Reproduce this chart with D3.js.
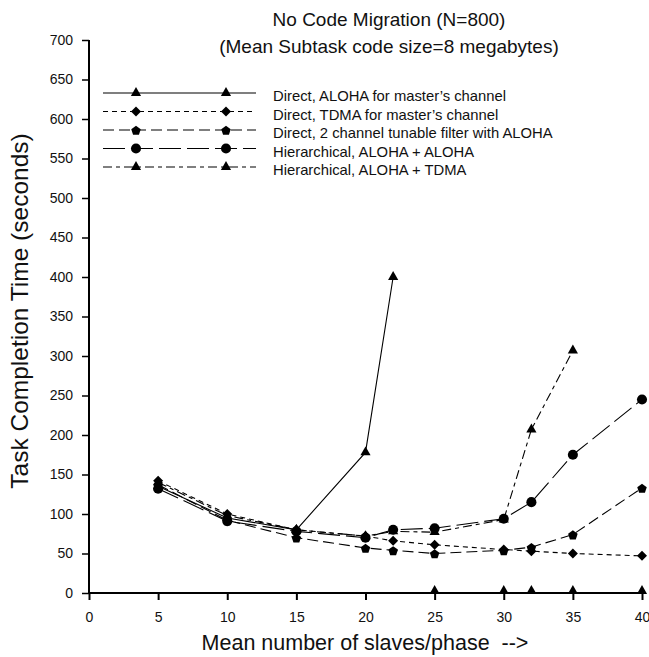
<html>
<head>
<script src="https://d3js.org/d3.v7.min.js"></script>
<style>
body { margin: 0; background: white; }
text { font-family: 'Liberation Sans', Arial, sans-serif; }
</style>
</head>
<body>
<svg id="chart" width="649" height="657"></svg>
<script>
// data
const seriesNames = [
  "Direct, ALOHA for master\u2019s channel",
  "Direct, TDMA for master\u2019s channel",
  "Direct, 2 channel tunable filter with ALOHA",
  "Hierarchical, ALOHA + ALOHA",
  "Hierarchical, ALOHA + TDMA"
];
const directAlohaX = [5, 10, 15, 20, 22];
const directAlohaY = [135, 95, 80, 178, 400];
const directTdmaX = [5, 10, 15, 20, 22, 25, 30, 32, 35, 40];
const directTdmaY = [142, 100, 80, 72, 66, 61, 55, 53, 50, 47];
const tunableX = [5, 10, 15, 20, 22, 25, 30, 32, 35, 40];
const tunableY = [137, 92, 70, 57, 54, 50, 54, 58, 74, 133];
const hierAlohaX = [5, 10, 15, 20, 22, 25, 30, 32, 35, 40];
const hierAlohaY = [132, 91, 78, 70, 80, 82, 94, 115, 175, 245];
const hierTdmaX = [5, 10, 15, 20, 22, 25, 30, 32, 35];
const hierTdmaY = [140, 98, 80, 72, 78, 77, 93, 207, 307];
// triangles sitting on the x axis (no value)
const zeroX = [25, 30, 32, 35, 40];
const zeroY = [0, 0, 0, 0, 0];

const xTicks = [0, 5, 10, 15, 20, 25, 30, 35, 40];
const yTicks = [0, 50, 100, 150, 200, 250, 300, 350, 400, 450, 500, 550, 600, 650, 700];

const svg = d3.select("#chart");
const x = d3.scaleLinear().domain([0, 40]).range([89, 642]);
const y = d3.scaleLinear().domain([0, 700]).range([593, 40]);

const styles = [
  {dash: null, sym: d3.symbolTriangle, size: 45},
  {dash: "5,4", sym: "diamond", size: 5},
  {dash: "11,5", sym: "pentagon", size: 5},
  {dash: "22,6", sym: d3.symbolCircle, size: 80},
  {dash: "9,4,4,4", sym: d3.symbolTriangle, size: 45}
];
const series = [
  [directAlohaX, directAlohaY],
  [directTdmaX, directTdmaY],
  [tunableX, tunableY],
  [hierAlohaX, hierAlohaY],
  [hierTdmaX, hierTdmaY]
];

function polygon(n, r, dy) {
  const pts = d3.range(n).map(i => {
    const a = -Math.PI / 2 + i * 2 * Math.PI / n;
    return [r * Math.cos(a), r * Math.sin(a) + dy];
  });
  return "M" + pts.join("L") + "Z";
}
function marker(g, st, cx, cy) {
  let d;
  if (st.sym === "pentagon") d = polygon(5, st.size, 0.8);
  else if (st.sym === "diamond") d = polygon(4, st.size, 0);
  else d = d3.symbol().type(st.sym).size(st.size)();
  g.append("path").attr("d", d)
    .attr("transform", `translate(${cx},${cy})`)
    .attr("fill", "black");
}

// axes
svg.append("g").attr("transform", "translate(0,593)")
  .call(d3.axisBottom(x).tickValues(xTicks).tickSize(7).tickPadding(12))
  .call(g => g.select(".domain").attr("stroke-width", 2).attr("d", "M89,0H642"))
  .call(g => g.selectAll(".tick line").attr("stroke-width", 2))
  .call(g => g.selectAll("text").style("font-size", "14px").attr("fill", "#111"));

svg.append("g").attr("transform", "translate(89,0)")
  .call(d3.axisLeft(y).tickValues(yTicks).tickSize(7).tickPadding(9))
  .call(g => g.select(".domain").attr("stroke-width", 2).attr("d", "M0,40V593"))
  .call(g => g.selectAll(".tick line").attr("stroke-width", 1.5))
  .call(g => g.selectAll("text").style("font-size", "14px").attr("fill", "#111"));

// lines and markers
const line = d3.line().x(d => x(d[0])).y(d => y(d[1]));
series.forEach((s, i) => {
  const pts = s[0].map((v, j) => [v, s[1][j]]);
  svg.append("path").datum(pts)
    .attr("d", line)
    .attr("fill", "none")
    .attr("stroke", "black")
    .attr("stroke-width", 1.1)
    .attr("stroke-dasharray", styles[i].dash);
  const g = svg.append("g");
  pts.forEach(p => marker(g, styles[i], x(p[0]), y(p[1])));
});
const gz = svg.append("g");
zeroX.forEach((v, j) => marker(gz, styles[0], x(v), y(zeroY[j]) - 2));

// legend
const legY = [93, 111.5, 130, 148.5, 167];
seriesNames.forEach((name, i) => {
  const g = svg.append("g");
  g.append("line")
    .attr("x1", 103).attr("x2", 256)
    .attr("y1", legY[i]).attr("y2", legY[i])
    .attr("stroke", "black").attr("stroke-width", 1.1)
    .attr("stroke-dasharray", styles[i].dash);
  marker(g, styles[i], 136, legY[i]);
  marker(g, styles[i], 226, legY[i]);
  g.append("text").attr("x", 273).attr("y", legY[i] + 8)
    .style("font-size", "14.8px").attr("fill", "#111").text(name);
});

// titles
svg.append("text").attr("x", 389).attr("y", 26).attr("text-anchor", "middle")
  .style("font-size", "19px").attr("fill", "#111").text("No Code Migration (N=800)");
svg.append("text").attr("x", 389).attr("y", 53).attr("text-anchor", "middle")
  .style("font-size", "19px").attr("fill", "#111").text("(Mean Subtask code size=8 megabytes)");
svg.append("text").attr("transform", "translate(28,311) rotate(-90)")
  .attr("text-anchor", "middle").style("font-size", "24.5px").attr("fill", "#111")
  .text("Task Completion Time (seconds)");
svg.append("text").attr("x", 365).attr("y", 650).attr("text-anchor", "middle")
  .style("font-size", "21.5px").attr("fill", "#111")
  .attr("xml:space", "preserve")
  .text("Mean number of slaves/phase  -->");
</script>
</body>
</html>
